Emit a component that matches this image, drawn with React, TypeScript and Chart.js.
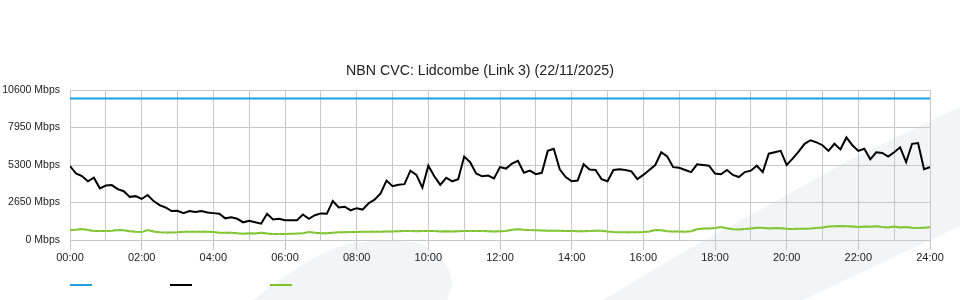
import React, { useEffect, useRef } from 'react';
import { Chart, registerables } from 'chart.js';

Chart.register(...registerables);

const chartTitle = 'NBN CVC: Lidcombe (Link 3) (22/11/2025)';
const intervalMinutes = 10;
const capacityMbps = 10000;
const yTickValues = [0, 2650, 5300, 7950, 10600];

// black series, one value per 10 minutes, 00:00 .. 24:00
const downloadMbps = [
  5230, 4700, 4520, 4150, 4400, 3650,
  3850, 3880, 3600, 3450, 3050, 3100,
  2900, 3180, 2750, 2470, 2300, 2050,
  2070, 1900, 2050, 1980, 2050, 1950,
  1900, 1850, 1530, 1600, 1500, 1250,
  1350, 1250, 1150, 1850, 1450, 1500,
  1400, 1400, 1400, 1800, 1500, 1750,
  1880, 1850, 2750, 2300, 2350, 2100,
  2250, 2150, 2600, 2850, 3300, 4200,
  3800, 3900, 3950, 4900, 4600, 3700,
  5250, 4500, 3900, 4400, 4150, 4300,
  5900, 5500, 4700, 4500, 4550, 4350,
  5150, 5050, 5400, 5600, 4750, 4900,
  4650, 4750, 6300, 6450, 5000, 4450,
  4150, 4200, 5350, 4980, 4950, 4300,
  4150, 4950, 5000, 4950, 4850, 4300,
  4600, 4950, 5300, 6200, 5900, 5150,
  5100, 4950, 4800, 5350, 5300, 5250,
  4700, 4650, 4950, 4600, 4450, 4800,
  4900, 5250, 4800, 6100, 6200, 6300,
  5300, 5750, 6250, 6800, 7050, 6900,
  6700, 6300, 6800, 6400, 7250, 6700,
  6300, 6450, 5700, 6200, 6150, 5900,
  6200, 6550, 5500, 6800, 6850, 5000,
  5150,
];

// green series, one value per 10 minutes, 00:00 .. 24:00
const uploadMbps = [
  700, 720, 770, 700, 640, 640,
  640, 660, 700, 690, 620, 580,
  560, 700, 600, 540, 530, 530,
  540, 580, 590, 590, 590, 580,
  560, 520, 520, 520, 480, 450,
  470, 460, 520, 460, 420, 420,
  430, 450, 460, 480, 560, 520,
  480, 480, 520, 540, 540, 560,
  560, 580, 590, 580, 590, 600,
  600, 620, 640, 640, 620, 640,
  640, 630, 600, 610, 600, 620,
  640, 630, 640, 640, 620, 600,
  620, 640, 720, 760, 720, 700,
  690, 680, 660, 660, 650, 640,
  640, 620, 620, 640, 660, 660,
  600, 560, 550, 540, 540, 540,
  560, 600, 700, 690, 620, 600,
  600, 580, 620, 760, 820, 820,
  840, 920, 830, 760, 740, 780,
  820, 870, 860, 820, 850, 830,
  800, 780, 790, 800, 820, 850,
  880, 960, 980, 990, 970, 950,
  920, 950, 930, 980, 920, 880,
  950, 880, 920, 870, 840, 870,
  900,
];

const timeLabels = downloadMbps.map((_, i) => i * intervalMinutes);
const dayMinutes = 1440;

const COLORS = {
  capacity: '#1c9fe0',
  download: '#000000',
  upload: '#7cc22a',
  grid: '#c8c8c8',
  text: '#222222',
  watermark: '#f3f4f6',
};

const FAMILY = '"Liberation Sans", Arial, sans-serif';

const watermarkPlugin = {
  id: 'watermark',
  beforeDraw(chart: any) {
    const ctx = chart.ctx as CanvasRenderingContext2D;
    ctx.save();
    ctx.fillStyle = COLORS.watermark;
    // rounded blob near bottom centre-left
    ctx.beginPath();
    ctx.moveTo(253, 300);
    ctx.bezierCurveTo(285, 275, 320, 250, 350, 244);
    ctx.bezierCurveTo(375, 239, 410, 239, 425, 246);
    ctx.bezierCurveTo(445, 256, 452, 272, 452, 287);
    ctx.lineTo(447, 300);
    ctx.closePath();
    ctx.fill();
    // diagonal band on the right
    ctx.beginPath();
    ctx.moveTo(603, 300);
    ctx.lineTo(680, 254);
    ctx.lineTo(747, 217);
    ctx.lineTo(857, 156);
    ctx.lineTo(960, 107);
    ctx.lineTo(960, 226);
    ctx.lineTo(803, 300);
    ctx.closePath();
    ctx.fill();
    ctx.restore();
  },
};

const legendPlugin = {
  id: 'lineLegend',
  afterDraw(chart: any) {
    const ctx = chart.ctx as CanvasRenderingContext2D;
    ctx.save();
    chart.data.datasets.forEach((ds: any, i: number) => {
      const x = chart.chartArea.left + i * 100;
      ctx.strokeStyle = ds.borderColor;
      ctx.lineWidth = 2;
      ctx.beginPath();
      ctx.moveTo(x, 285);
      ctx.lineTo(x + 22, 285);
      ctx.stroke();
    });
    ctx.restore();
  },
};

function fmtTime(v: number) {
  const h = Math.round(v / 60);
  return `${String(h).padStart(2, '0')}:00`;
}

export default function App() {
  const canvasRef = useRef<HTMLCanvasElement | null>(null);

  useEffect(() => {
    document.body.style.margin = '0';
    const canvas = canvasRef.current;
    if (!canvas) return;
    const chart = new Chart(canvas, {
      type: 'line',
      data: {
        labels: timeLabels,
        datasets: [
          {
            label: 'Capacity',
            data: [
              { x: 0, y: capacityMbps },
              { x: dayMinutes, y: capacityMbps },
            ],
            borderColor: COLORS.capacity,
            backgroundColor: COLORS.capacity,
            borderWidth: 2,
            pointRadius: 0,
            tension: 0,
          },
          {
            label: 'Download',
            data: downloadMbps,
            borderColor: COLORS.download,
            backgroundColor: COLORS.download,
            borderWidth: 2,
            pointRadius: 0,
            tension: 0,
          },
          {
            label: 'Upload',
            data: uploadMbps,
            borderColor: COLORS.upload,
            backgroundColor: '#94cf55',
            borderWidth: 2,
            pointRadius: 1,
            pointBorderWidth: 0,
            tension: 0,
          },
        ],
      },
      options: {
        responsive: false,
        animation: false,
        devicePixelRatio: 1,
        layout: { padding: 0 },
        plugins: {
          legend: { display: false },
          tooltip: { enabled: false },
          title: {
            display: true,
            text: chartTitle,
            color: COLORS.text,
            font: { family: FAMILY, size: 14.2, weight: 'normal' },
            padding: { top: 63, bottom: 10 },
          },
        },
        scales: {
          x: {
            type: 'linear',
            min: 0,
            max: dayMinutes,
            afterFit(scale: any) {
              scale.height = 60;
            },
            ticks: {
              stepSize: 60,
              autoSkip: false,
              maxRotation: 0,
              padding: 1,
              color: COLORS.text,
              font: { family: FAMILY, size: 11 },
              callback: (value: any) => (Number(value) % 120 === 0 ? fmtTime(Number(value)) : ''),
            },
            grid: {
              color: COLORS.grid,
              tickLength: 10,
              tickColor: (ctx: any) =>
                ctx.tick && ctx.tick.value % 120 === 0 ? COLORS.grid : 'rgba(0,0,0,0)',
            },
            border: { color: COLORS.grid },
          },
          y: {
            type: 'linear',
            min: 0,
            max: 10600,
            afterFit(scale: any) {
              scale.width = 70;
            },
            afterBuildTicks(scale: any) {
              scale.ticks = yTickValues.map((v) => ({ value: v }));
            },
            ticks: {
              padding: 10,
              color: COLORS.text,
              font: { family: FAMILY, size: 10.5 },
              callback: (value: any) => `${value} Mbps`,
            },
            grid: { color: COLORS.grid, drawTicks: false },
            border: { color: COLORS.grid },
          },
          yRight: {
            type: 'linear',
            position: 'right',
            min: 0,
            max: 10600,
            afterFit(scale: any) {
              scale.width = 30;
            },
            ticks: { display: false },
            grid: { display: false, drawOnChartArea: false },
            border: { display: false },
          },
        },
      },
      plugins: [watermarkPlugin, legendPlugin],
    } as any);
    return () => chart.destroy();
  }, []);

  return (
    <div style={{ width: 960, height: 300, position: 'relative', background: '#fff' }}>
      <canvas ref={canvasRef} width={960} height={300} style={{ display: 'block' }} />
    </div>
  );
}
